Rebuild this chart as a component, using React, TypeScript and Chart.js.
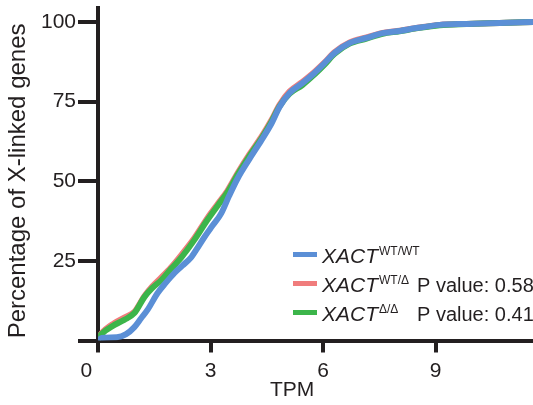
import React, { useEffect, useRef } from 'react';
import { Chart, registerables } from 'chart.js';

Chart.register(...registerables);

// TPM (x) and cumulative percentage (y) for each genotype
const tpmWT = [0, 0.1, 0.5, 0.75, 0.97, 1.15, 1.32, 1.59, 1.8, 2.04, 2.25, 2.49, 2.65, 2.84, 3.05, 3.29, 3.5, 3.72, 4.04, 4.36, 4.63, 4.84, 5.11, 5.45, 5.77, 6.04, 6.31, 6.71, 7.16, 7.59, 8.04, 8.49, 9.11, 9.83, 10.71, 11.6];
const pctWT = [0, 0.8, 1.0, 2.0, 4.2, 7.0, 9.6, 14.9, 18.0, 21.2, 23.5, 26.2, 29.0, 32.5, 36.0, 40.0, 45.5, 50.8, 57.0, 62.9, 68.2, 73.3, 77.7, 80.8, 84.0, 87.1, 90.3, 93.4, 95.0, 96.5, 97.2, 98.1, 99.1, 99.4, 99.7, 100];

const tpmHet = [0, 0.09, 0.44, 0.7, 0.97, 1.24, 1.45, 1.69, 1.95, 2.23, 2.57, 2.92, 3.2, 3.45, 3.72, 4.04, 4.36, 4.63, 4.84, 5.11, 5.45, 5.77, 6.04, 6.31, 6.71, 7.16, 7.59, 8.04, 8.49, 9.11, 9.83, 10.71, 11.6];
const pctHet = [0.5, 2.2, 5.5, 7.2, 9.0, 14.0, 17.0, 19.8, 23.0, 27.0, 32.2, 38.5, 43.0, 47.0, 52.5, 58.5, 64.0, 69.3, 74.0, 78.2, 81.2, 84.3, 87.3, 90.6, 93.6, 95.2, 96.6, 97.3, 98.1, 99.1, 99.4, 99.7, 100];

const tpmKO = [0, 0.09, 0.44, 0.7, 0.97, 1.24, 1.45, 1.69, 1.95, 2.23, 2.57, 2.92, 3.2, 3.45, 3.72, 4.04, 4.36, 4.63, 4.84, 5.11, 5.45, 5.77, 6.04, 6.31, 6.71, 7.16, 7.59, 8.04, 8.49, 9.11, 9.83, 10.71, 11.6];
const pctKO = [0.5, 2.0, 4.9, 6.5, 8.6, 13.7, 16.5, 19.0, 22.5, 26.2, 31.6, 37.9, 42.5, 46.5, 52.0, 58.0, 63.5, 68.8, 73.5, 77.5, 80.2, 83.5, 86.6, 90.0, 93.2, 94.8, 96.3, 97.1, 98.0, 99.0, 99.4, 99.7, 100];

const seriesNames = ['XACT', 'XACT', 'XACT'];
const seriesSups = ['WT/WT', 'WT/Δ', 'Δ/Δ'];
const pValueTexts = ['', 'P value: 0.58', 'P value: 0.41'];
const seriesColors = ['#5b8fd6', '#f07c7c', '#3cb54a'];

const xTicks = [0, 3, 6, 9];
const yTicks = [0, 25, 50, 75, 100];
const xMax = 11.6;
const yMax = 104.4;

const INK = '#231f20';
const FONT = "'Liberation Sans', Arial, Helvetica, sans-serif";

const toPoints = (xs: number[], ys: number[]) => xs.map((x, i) => ({ x, y: ys[i] }));

const legendPlugin = {
  id: 'customLegend',
  afterDraw(chart: any) {
    const ctx = chart.ctx as CanvasRenderingContext2D;
    const { right, bottom } = chart.chartArea;
    const x0 = right - 240;
    const baseY0 = bottom - 78;
    ctx.save();
    ctx.textBaseline = 'alphabetic';
    ctx.textAlign = 'left';
    seriesNames.forEach((name, i) => {
      const by = baseY0 + i * 29;
      ctx.strokeStyle = seriesColors[i];
      ctx.lineWidth = 5;
      ctx.beginPath();
      ctx.moveTo(x0, by - 8);
      ctx.lineTo(x0 + 24, by - 8);
      ctx.stroke();
      ctx.fillStyle = INK;
      ctx.font = `italic 21px ${FONT}`;
      ctx.fillText(name, x0 + 29, by);
      const w = ctx.measureText(name).width;
      ctx.font = `12px ${FONT}`;
      ctx.fillText(seriesSups[i], x0 + 29 + w + 1, by - 8);
      if (pValueTexts[i]) {
        ctx.font = `20px ${FONT}`;
        ctx.fillText(pValueTexts[i], x0 + 124, by);
      }
    });
    ctx.restore();
  },
};

export default function App() {
  const ref = useRef<HTMLCanvasElement>(null);

  useEffect(() => {
    document.body.style.margin = '0';
    const canvas = ref.current;
    if (!canvas) return;
    const mk = (label: string, xs: number[], ys: number[], color: string) => ({
      label,
      data: toPoints(xs, ys),
      borderColor: color,
      backgroundColor: color,
      borderWidth: 6,
      pointRadius: 0,
      showLine: true,
      cubicInterpolationMode: 'monotone',
      fill: false,
    });
    const chart = new Chart(canvas, {
      type: 'scatter',
      data: {
        datasets: [
          mk('XACT WT/WT', tpmWT, pctWT, seriesColors[0]),
          mk('XACT Δ/Δ', tpmKO, pctKO, seriesColors[2]),
          mk('XACT WT/Δ', tpmHet, pctHet, seriesColors[1]),
        ],
      },
      options: {
        animation: false,
        responsive: false,
        maintainAspectRatio: false,
        layout: { padding: { top: 8, right: 0, left: 0, bottom: 0 } },
        plugins: {
          legend: { display: false },
          tooltip: { enabled: false },
        },
        scales: {
          x: {
            type: 'linear',
            position: 'bottom',
            min: 0,
            max: xMax,
            afterBuildTicks: (scale: any) => {
              scale.ticks = xTicks.map((v) => ({ value: v }));
            },
            afterFit: (scale: any) => {
              scale.height = 64.5;
              scale.paddingLeft = 0;
              scale.paddingRight = 0;
            },
            grid: {
              display: true,
              drawOnChartArea: false,
              drawTicks: true,
              tickLength: 12,
              lineWidth: 4,
              color: INK,
            },
            border: { display: true, width: 4, color: INK },
            ticks: {
              font: { size: 21, family: FONT },
              color: INK,
              padding: 6,
              maxRotation: 0,
              callback: (v: any) => (v === 0 ? '0    ' : String(v)),
            },
            title: {
              display: true,
              text: 'TPM        ',
              font: { size: 21, family: FONT },
              color: INK,
              padding: { top: 0, bottom: 2 },
            },
          },
          y: {
            type: 'linear',
            position: 'left',
            min: 0,
            max: yMax,
            afterBuildTicks: (scale: any) => {
              scale.ticks = yTicks.map((v) => ({ value: v }));
            },
            afterFit: (scale: any) => {
              scale.width = 98;
              scale.paddingTop = 0;
              scale.paddingBottom = 0;
            },
            grid: {
              display: true,
              drawOnChartArea: false,
              drawTicks: true,
              tickLength: 20,
              lineWidth: 4,
              color: INK,
            },
            border: { display: true, width: 4, color: INK },
            ticks: {
              font: { size: 21, family: FONT },
              color: INK,
              padding: 2,
              callback: (v: any) => (v === 0 ? '' : String(v)),
            },
            title: {
              display: true,
              text: 'Percentage of X-linked genes  ',
              font: { size: 24, family: FONT },
              color: INK,
              padding: { top: 4, bottom: 0 },
            },
          },
        },
      },
      plugins: [legendPlugin],
    } as any);
    return () => chart.destroy();
  }, []);

  return <canvas ref={ref} width={533} height={405} style={{ display: 'block', width: 533, height: 405 }} />;
}
